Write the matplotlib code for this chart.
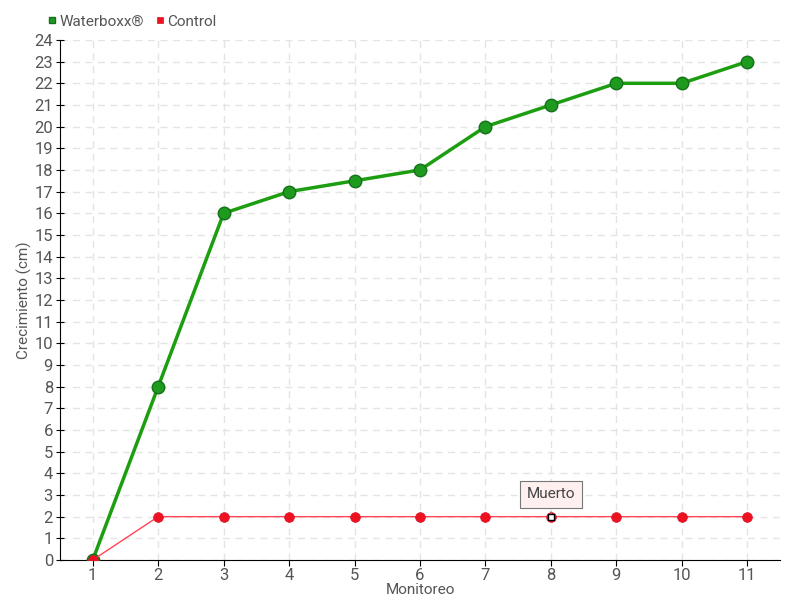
import matplotlib
matplotlib.use("Agg")
import matplotlib.pyplot as plt

plt.rcParams['font.family'] = ['Roboto', 'DejaVu Sans']

monitoreo = [1, 2, 3, 4, 5, 6, 7, 8, 9, 10, 11]
waterboxx = [0, 8, 16, 17, 17.5, 18, 20, 21, 22, 22, 23]
control = [0, 2, 2, 2, 2, 2, 2, 2, 2, 2, 2]
muerto_idx = 7

txt = '#555555'
fig = plt.figure(figsize=(8, 6), dpi=100)
ax = fig.add_axes([0.075, 0.0667, 0.9, 0.8667])

ax.plot(monitoreo, waterboxx, color='#1c9e10', lw=2.5, marker='o', ms=9,
        mfc='#1e9a1e', mec='#16701a', mew=1, zorder=3, label='Waterboxx®')
ax.plot(monitoreo, control, color='#ff4455', lw=1, marker='o', ms=7,
        mfc='#ee1122', mec='#dd1122', mew=0.5, zorder=4, label='Control')
ax.plot(monitoreo[muerto_idx], control[muerto_idx], marker='s', ms=5,
        mfc='white', mec='black', mew=1, zorder=5)

ax.annotate('Muerto', xy=(monitoreo[muerto_idx], control[muerto_idx]),
            xytext=(0, 16), textcoords='offset points', ha='center', va='center',
            fontsize=11, color='#444444', zorder=6,
            bbox=dict(boxstyle='square,pad=0.45', fc='#fff0f0', ec='#777777', lw=0.8),
            arrowprops=dict(arrowstyle='-', color='#777777', lw=0.8))

ax.set_xlim(0.5, 11.5)
ax.set_ylim(0, 24)
ax.set_xticks(monitoreo)
ax.set_yticks(range(0, 25))
ax.grid(True, color='#e4e4e4', linestyle=(0, (5, 4)), lw=1)
ax.set_axisbelow(True)
for s in ['top', 'right']:
    ax.spines[s].set_visible(False)
ax.tick_params(colors='black', labelcolor=txt, labelsize=12, length=4, pad=2)
ax.tick_params(axis='y', direction='inout', length=6)
ax.set_xlabel('Monitoreo', color=txt, fontsize=11, labelpad=0)
ax.set_ylabel('Crecimiento (cm)', color=txt, fontsize=11, labelpad=2)

ax.legend(loc='center left', bbox_to_anchor=(-0.035, 1.035), ncol=2, frameon=False,
          fontsize=11, labelcolor=txt, handlelength=0.5, handletextpad=0.2,
          columnspacing=0.8)
leg = ax.get_legend()
for h, c in zip(leg.legend_handles, ['#1c9e10', '#ee1122']):
    h.set_linestyle('none')
    h.set_marker('s')
    h.set_markersize(5)
    h.set_color(c)

fig.savefig('out.png')
